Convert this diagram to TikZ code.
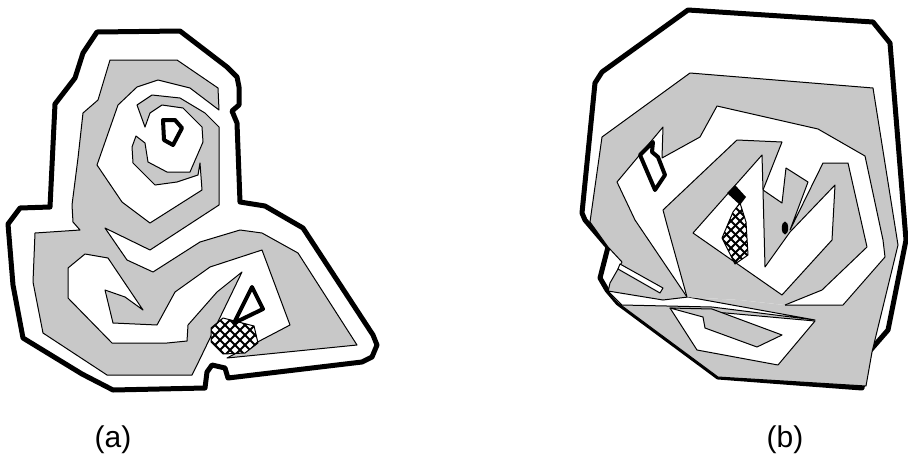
\documentclass[tikz,border=0pt]{standalone}
\usepackage{fontspec}
\setmainfont{Liberation Sans}
\definecolor{halftone}{RGB}{200,200,200}
\begin{document}
\begin{tikzpicture}[x=1pt,y=-1pt,
  grayreg/.style={fill=halftone, draw=black, line width=1pt, line join=round},
  grayfill/.style={fill=halftone},
  whitereg/.style={fill=white, draw=black, line width=1pt, line join=round},
  whitefill/.style={fill=white},
  thinline/.style={draw=black, line width=1pt, line join=round},
  border/.style={draw=black, line width=5pt, line join=round},
  thickmark/.style={draw=black, line width=4pt, line join=round},
  hatchline/.style={draw=black, line width=2pt},
  lab/.style={font=\fontsize{30}{34}\selectfont, inner sep=0pt}]
\useasboundingbox (0,0) rectangle (908,472);

% ================= panel (a) =================
\path[border] (97,32) -- (180,31) -- (227,67) -- (237,77) -- (239,87) -- (239,105) -- (232,111) -- (237,123) -- (240,202) -- (265,206) -- (303,228) -- (373,335) -- (377,345) -- (372,357) -- (362,362) -- (228,378) -- (225,368) -- (212,365) -- (207,372) -- (205,388) -- (113,390) -- (82,374) -- (23,338) -- (13,285) -- (8,224) -- (20,208) -- (50,207) -- (55,104) -- (75,78) -- (83,53) -- cycle;

\path[grayreg] (219,110) -- (218,88) -- (177,60) -- (110,60) -- (98,100) -- (83,113) -- (78,158) -- (72,205) -- (73,222) -- (80,230) -- (35,233) -- (33,282) -- (43,333) -- (107,375) -- (192,375) -- (197,365) -- (242,272) -- (217,292) -- (188,325) -- (187,341) -- (167,343) -- (112,343) -- (68,298) -- (68,268) -- (85,254) -- (108,258) -- (143,310) -- (125,297) -- (105,290) -- (113,323) -- (157,325) -- (175,292) -- (210,267) -- (262,250) -- (290,325) -- (227,358) -- (357,345) -- (298,253) -- (262,233) -- (240,230) -- (200,242) -- (153,272) -- (127,260) -- (105,228) -- (150,250) -- (219,205) -- (219,127) -- (205,113) -- (180,98) -- (152,95) -- (137,105) -- (145,127) -- (150,113) -- (162,105) -- (183,108) -- (202,127) -- (203,142) -- (190,172) -- (167,172) -- (148,162) -- (145,143) -- (136,136) -- (132,147) -- (133,163) -- (155,185) -- (177,182) -- (198,175) -- (200,163) -- (202,190) -- (150,223) -- (122,202) -- (97,165) -- (118,105) -- (137,87) -- (158,80) -- (190,88) -- cycle;

% D mark
\path[thickmark, fill=white] (163,120) -- (175,120) -- (182,128) -- (173,145) -- (164,140) -- cycle;

% cross-hatched patch (a)
\begin{scope}
  \clip (211,328) -- (223,318) -- (254,326) -- (258,343) -- (245,353) -- (223,354) -- (211,342) -- cycle;
  \fill[white] (200,300) rectangle (270,370);
  \foreach \c in {140,150,...,260} { \draw[hatchline] (\c,300) -- ++(80,80); }
  \foreach \c in {210,220,...,330} { \draw[hatchline] (\c,300) -- ++(-80,80); }
\end{scope}
\path[thinline] (211,328) -- (223,318) -- (254,326) -- (258,343) -- (245,353) -- (223,354) -- (211,342) -- cycle;

% triangle mark
\path[thickmark] (252,287) -- (263,309) -- (234,323) -- cycle;

% ================= panel (b) =================
\path[border] (688,10) -- (873,22) -- (890,43) -- (906,240) -- (888,330) -- (868,353) -- (862,388) -- (718,377) -- (618,303) -- (607,290) -- (600,278) -- (608,247) -- (585,220) -- (582,213) -- (595,83) -- (602,72) -- cycle;

% envelope
\path[grayreg] (690,73) -- (873,88) -- (898,245) -- (872,352) -- (866,386) -- (718,377) -- (618,303) -- (608,292) -- (610,283) -- (622,262) -- (608,247) -- (590,222) -- (602,137) -- cycle;

% white strip and lower pocket
\path[whitereg] (608,291) -- (663,300) -- (688,297) -- (815,320) -- (712,307) -- (622,305) -- cycle;
\path[whitereg] (670,308) -- (815,321) -- (778,365) -- (697,350) -- cycle;
\path[grayreg] (670,308) -- (703,317) -- (705,328) -- (757,347) -- (782,335) -- (712,309) -- cycle;
\path[whitereg] (620,264) -- (663,288) -- (660,293) -- (618,269) -- cycle;

% main white channel
\path[whitefill] (785,305) -- (843,305) -- (885,257) -- (883,240) -- (865,156) -- (818,129) -- (717,106) -- (700,137) -- (662,158) -- (663,127) -- (617,182) -- (635,220) -- (687,297) -- (740,300) -- cycle;
\path[thinline] (785,305) -- (843,305) -- (885,257) -- (883,240) -- (865,156) -- (818,129) -- (717,106) -- (700,137) -- (662,158) -- (663,127) -- (617,182) -- (635,220) -- (687,297);

% inner gray
\path[grayfill] (687,297) -- (667,225) -- (663,210) -- (737,140) -- (782,142) -- (763,190) -- (782,203) -- (786,168) -- (808,182) -- (790,230) -- (823,163) -- (848,163) -- (867,247) -- (822,290) -- (785,305) -- (740,300) -- cycle;
\path[thinline] (687,297) -- (667,225) -- (663,210) -- (737,140) -- (782,142) -- (763,190) -- (782,203) -- (786,168) -- (808,182) -- (790,230) -- (823,163) -- (848,163) -- (867,247) -- (822,290) -- (785,305);

% inner white
\path[whitereg] (693,233) -- (762,155) -- (763,190) -- (765,267) -- (790,232) -- (835,185) -- (832,240) -- (782,295) -- cycle;

% cross-hatched patch (b)
\begin{scope}
  \clip (722,238) -- (735,264) -- (748,255) -- (746,222) -- (740,203) -- (733,212) -- cycle;
  \fill[white] (700,190) rectangle (760,275);
  \foreach \c in {600,609,...,760} { \draw[hatchline] (\c,180) -- ++(100,100); }
  \foreach \c in {700,709,...,860} { \draw[hatchline] (\c,180) -- ++(-100,100); }
\end{scope}
\path[thinline] (722,238) -- (735,264) -- (748,255) -- (746,222) -- (740,203) -- (733,212) -- cycle;
\fill[black] (727,193) -- (735,185) -- (746,197) -- (740,205) -- cycle;
\fill[black] (785,228) ellipse [x radius=3.2pt, y radius=6.5pt];

% thick quad mark
\path[thickmark, fill=white] (640,155) -- (653,142) -- (652,152) -- (658,157) -- (665,175) -- (655,190) -- cycle;

% labels
\node[lab] (la) at (113,440) {(a)};
\node[lab] (lb) at (785,440) {(b)};
\end{tikzpicture}
\end{document}
